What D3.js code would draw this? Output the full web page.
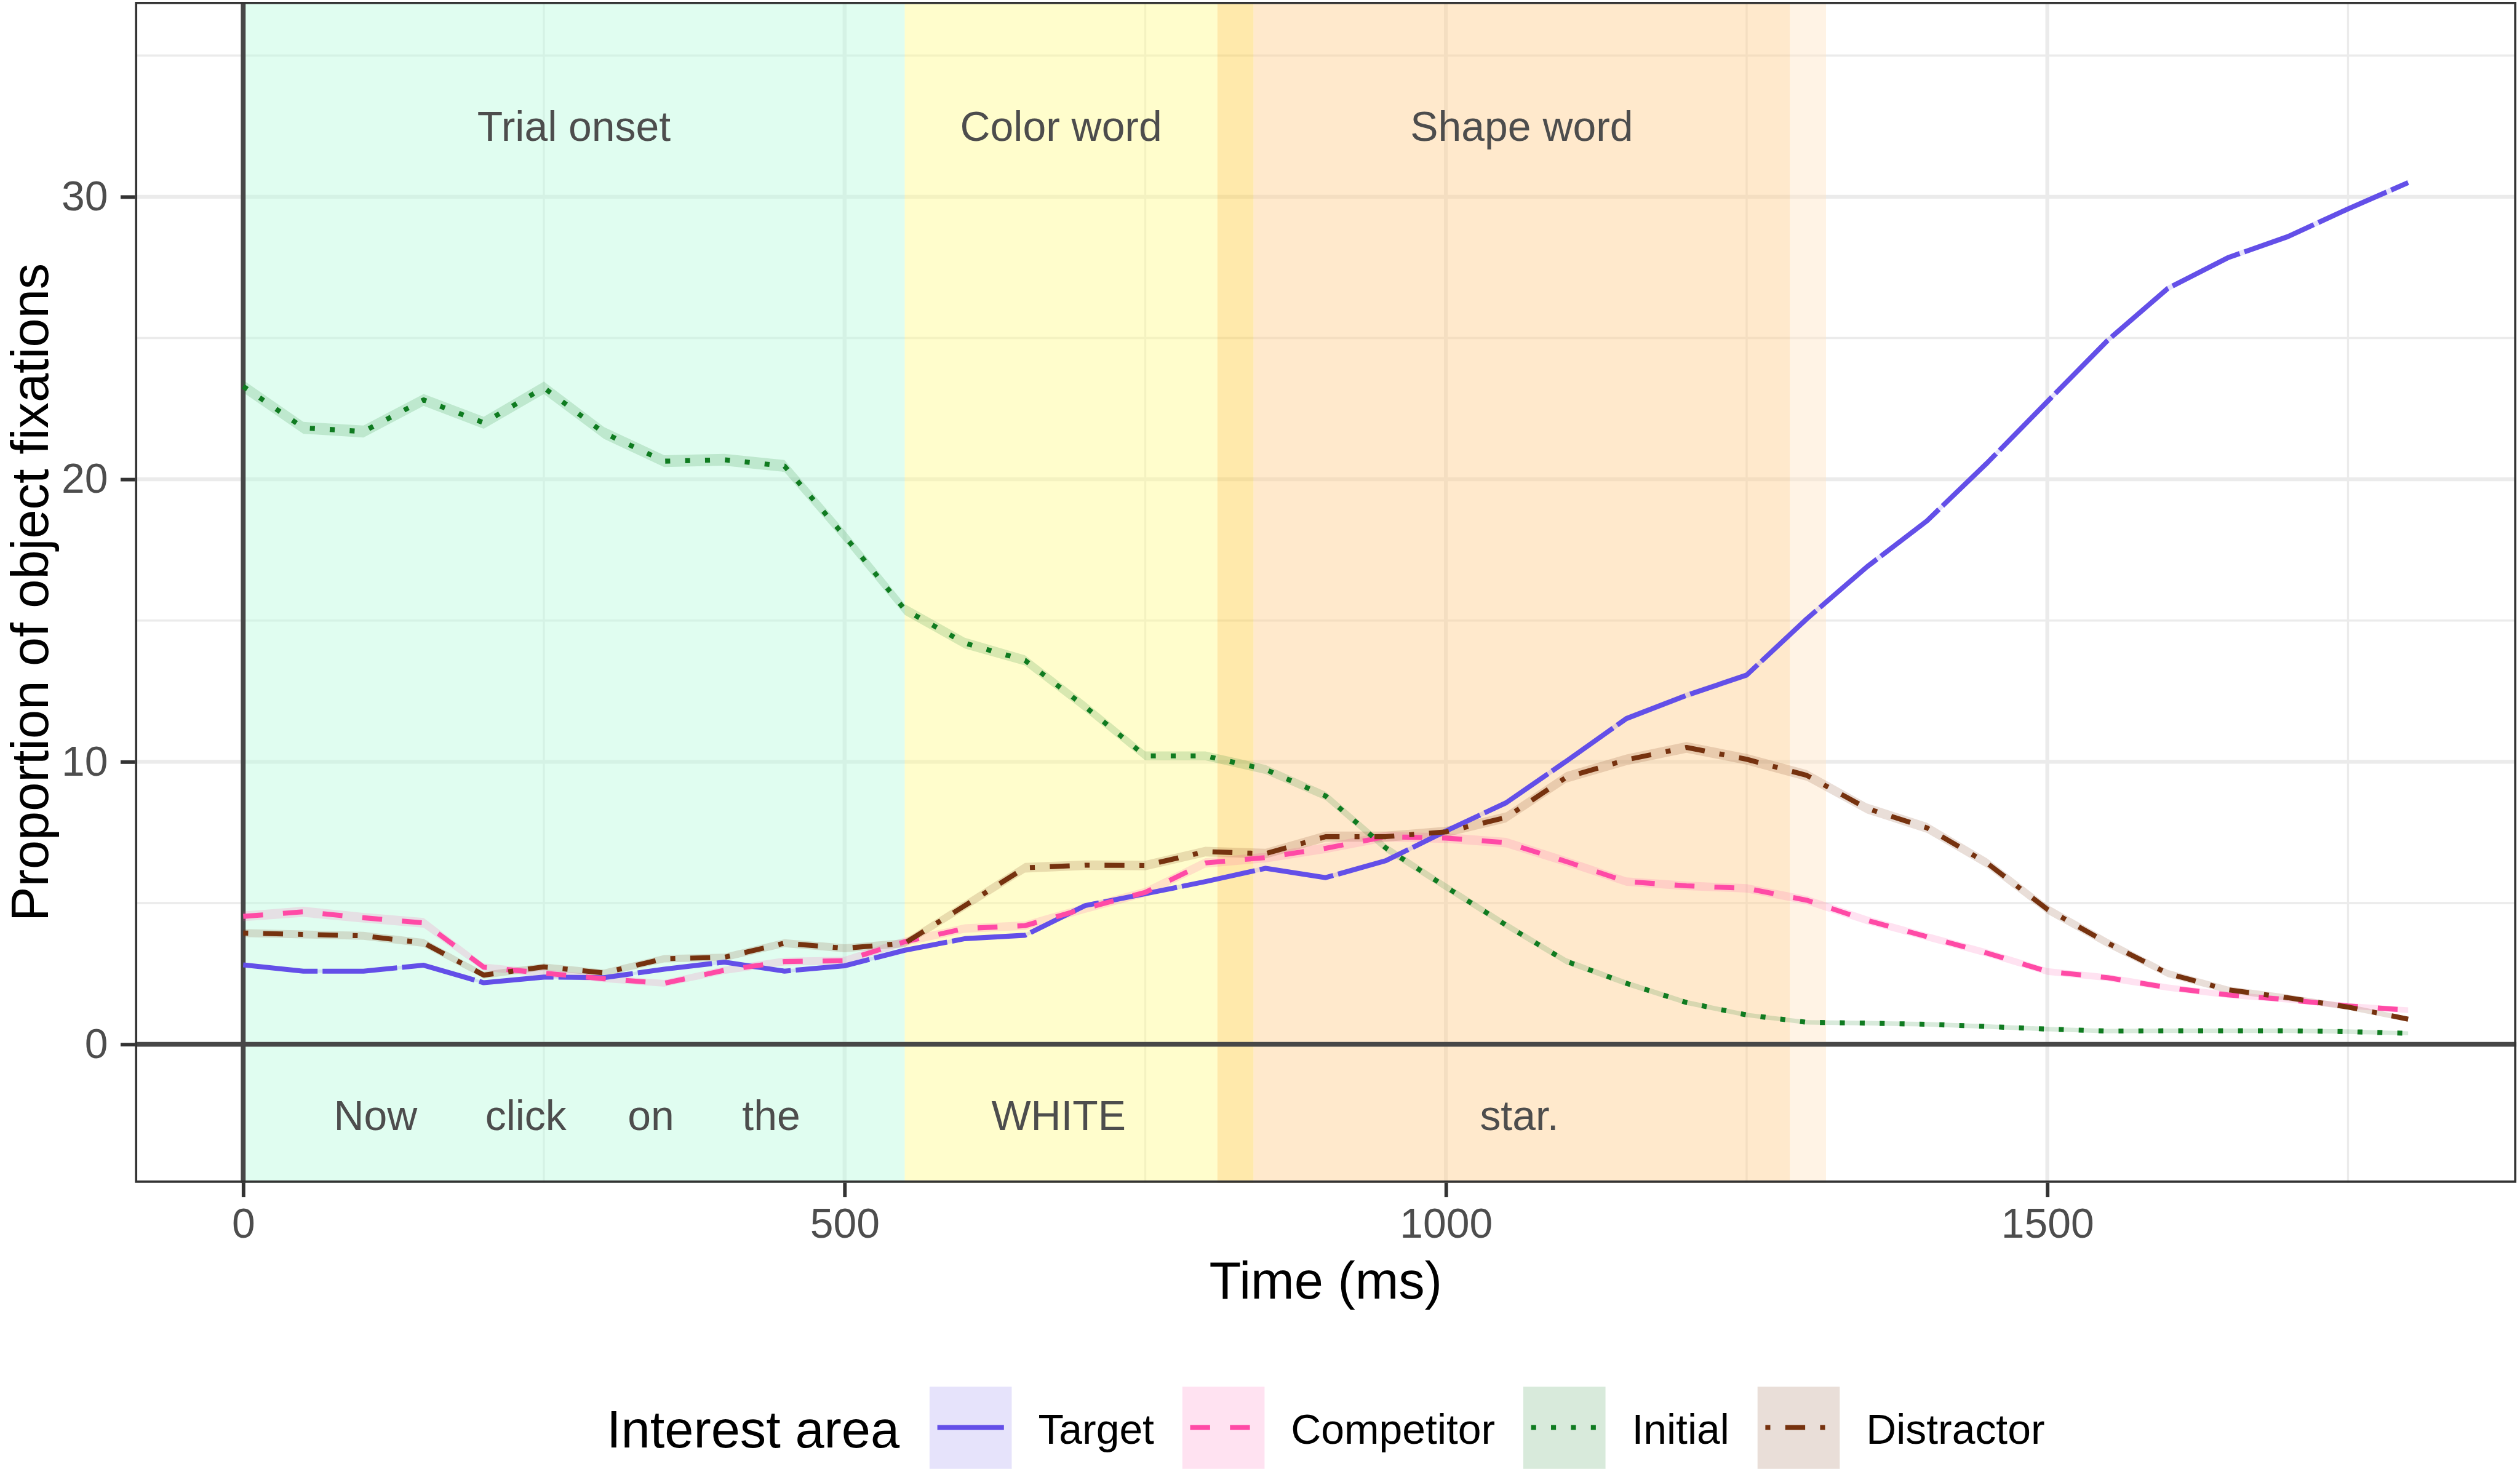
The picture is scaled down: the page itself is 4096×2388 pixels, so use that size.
<!DOCTYPE html>
<html><head><meta charset="utf-8">
<script src="https://cdn.jsdelivr.net/npm/d3@7"></script>
<style>
html,body{margin:0;padding:0;background:#fff;overflow:hidden}
svg{display:block}
text{font-family:"Liberation Sans",Arial,Helvetica,sans-serif}
</style>
</head><body>
<svg id="chart" width="4096" height="2388"></svg>
<script>
// ---------------- data ----------------
const time = [0,50,100,150,200,250,300,350,400,450,500,550,600,650,700,750,800,850,900,950,1000,1050,1100,1150,1200,1250,1300,1350,1400,1450,1500,1550,1600,1650,1700,1750,1800];
const target = [2.81,2.59,2.59,2.80,2.18,2.38,2.36,2.66,2.91,2.59,2.78,3.33,3.74,3.86,4.91,5.33,5.76,6.23,5.90,6.50,7.55,8.55,10.02,11.53,12.35,13.07,15.06,16.90,18.53,20.58,22.75,24.91,26.75,27.84,28.59,29.57,30.50];
const competitor = [4.53,4.69,4.48,4.30,2.73,2.52,2.32,2.16,2.62,2.93,2.96,3.63,4.10,4.20,4.81,5.38,6.42,6.61,6.94,7.35,7.30,7.14,6.47,5.76,5.61,5.52,5.10,4.39,3.81,3.23,2.58,2.36,2.01,1.75,1.58,1.36,1.21];
const initial = [23.29,21.82,21.69,22.81,22.0,23.24,21.64,20.64,20.69,20.47,17.99,15.39,14.20,13.59,11.95,10.21,10.21,9.73,8.79,6.95,5.57,4.22,2.94,2.16,1.48,1.04,0.78,0.75,0.71,0.63,0.54,0.47,0.48,0.48,0.48,0.45,0.39];
const distractor = [3.94,3.89,3.84,3.59,2.45,2.74,2.53,3.03,3.08,3.58,3.40,3.58,4.91,6.25,6.34,6.33,6.82,6.75,7.35,7.35,7.52,8.03,9.45,10.07,10.51,10.09,9.52,8.35,7.66,6.41,4.78,3.59,2.51,1.93,1.65,1.32,0.89];
// ribbon half-widths (standard error), estimated
const seTarget = [0.06,0.06,0.06,0.06,0.05,0.05,0.05,0.06,0.06,0.06,0.06,0.07,0.07,0.07,0.08,0.08,0.08,0.08,0.08,0.08,0.09,0.09,0.10,0.10,0.10,0.10,0.10,0.10,0.10,0.10,0.10,0.10,0.10,0.10,0.10,0.10,0.10];
const seCompetitor = [0.17,0.18,0.17,0.17,0.13,0.13,0.12,0.12,0.13,0.14,0.14,0.15,0.15,0.15,0.16,0.16,0.17,0.17,0.17,0.17,0.17,0.17,0.16,0.15,0.15,0.15,0.15,0.14,0.13,0.13,0.12,0.12,0.11,0.11,0.10,0.10,0.10];
const seInitial = [0.22,0.21,0.21,0.21,0.21,0.22,0.21,0.21,0.21,0.21,0.20,0.19,0.19,0.18,0.17,0.16,0.16,0.16,0.15,0.14,0.13,0.12,0.11,0.10,0.09,0.08,0.08,0.08,0.08,0.08,0.08,0.08,0.08,0.08,0.08,0.08,0.07];
const seDistractor = [0.14,0.14,0.14,0.14,0.12,0.12,0.12,0.13,0.13,0.14,0.14,0.14,0.16,0.17,0.17,0.17,0.17,0.17,0.18,0.18,0.18,0.18,0.19,0.19,0.19,0.19,0.19,0.18,0.18,0.17,0.16,0.15,0.13,0.12,0.11,0.10,0.09];

const seriesNames = ["Target","Competitor","Initial","Distractor"];
const legendTitle = "Interest area";

// shaded phases (ms)
const phaseStart = [0,550,810,840,1286];
const phaseEnd   = [550,810,840,1286,1316];
// phase labels
const phaseLabels = ["Trial onset","Color word","Shape word"];
const phaseLabelX = [275,680,1063];
const phaseLabelY = 32.5;
const wordLabels = ["Now","click","on","the","WHITE","star."];
const wordLabelX = [110,235,339,439,678,1061];
const wordLabelY = -2.5;

const xTicks = [0,500,1000,1500];
const xMinor = [250,750,1250,1750];
const yTicks = [0,10,20,30];
const yMinor = [5,15,25,35];
const xTitle = "Time (ms)";
const yTitle = "Proportion of object fixations";

// ---------------- styles ----------------
const S = 0.975;
const lineColors = ["#634FE8","#FF4AA6","#0F7B20","#76320F"];
const phaseColors = ["#BAFBDE","#FFFB8E","#FFCE45","#FFCE8E","#FFE4C5"];
const LW = 8.3*S, U = 8.3*S;
const dashes = [[15*U,1*U],[4*U,4*U],[1*U,3*U],[1*U,3*U,4*U,3*U]];
const fsBase = 87*S, fsSmall = 69.6*S;

const panel = {l:225*S, r:4195*S, t:3*S, b:1972*S};
const x = d3.scaleLinear().domain([-90,1890]).range([panel.l, panel.r]);
const y = d3.scaleLinear().domain([-4.9,36.9]).range([panel.b, panel.t]);

const svg = d3.select("#chart");
svg.append("rect").attr("width",4096).attr("height",2388).attr("fill","#fff");
svg.append("defs").append("clipPath").attr("id","clip")
  .append("rect").attr("x",panel.l).attr("y",panel.t)
  .attr("width",panel.r-panel.l).attr("height",panel.b-panel.t);

const g = svg.append("g").attr("clip-path","url(#clip)");

// gridlines
g.selectAll(".gxm").data(xMinor).join("line")
  .attr("x1",d=>x(d)).attr("x2",d=>x(d)).attr("y1",panel.t).attr("y2",panel.b)
  .attr("stroke","#EBEBEB").attr("stroke-width",3.5*S);
g.selectAll(".gym").data(yMinor).join("line")
  .attr("y1",d=>y(d)).attr("y2",d=>y(d)).attr("x1",panel.l).attr("x2",panel.r)
  .attr("stroke","#EBEBEB").attr("stroke-width",3.5*S);
g.selectAll(".gxM").data(xTicks).join("line")
  .attr("x1",d=>x(d)).attr("x2",d=>x(d)).attr("y1",panel.t).attr("y2",panel.b)
  .attr("stroke","#EBEBEB").attr("stroke-width",6.5*S);
g.selectAll(".gyM").data(yTicks).join("line")
  .attr("y1",d=>y(d)).attr("y2",d=>y(d)).attr("x1",panel.l).attr("x2",panel.r)
  .attr("stroke","#EBEBEB").attr("stroke-width",6.5*S);

// phase shading
g.selectAll(".phase").data(phaseStart).join("rect")
  .attr("x",(d,i)=>x(d)).attr("width",(d,i)=>x(phaseEnd[i])-x(d))
  .attr("y",panel.t-10).attr("height",panel.b-panel.t+20)
  .attr("fill",(d,i)=>phaseColors[i]).attr("fill-opacity",0.45);

// reference lines at 0
g.append("line").attr("x1",x(0)).attr("x2",x(0)).attr("y1",panel.t-10).attr("y2",panel.b+10)
  .attr("stroke","#474747").attr("stroke-width",8*S);
g.append("line").attr("y1",y(0)).attr("y2",y(0)).attr("x1",panel.l-10).attr("x2",panel.r+10)
  .attr("stroke","#474747").attr("stroke-width",8*S);

// series
const values = [target,competitor,initial,distractor];
const ses = [seTarget,seCompetitor,seInitial,seDistractor];
const series = seriesNames.map((n,k)=>({name:n,k:k,pts:time.map((t,i)=>({t:t,v:values[k][i],se:ses[k][i]}))}));

const area = d3.area().x(d=>x(d.t)).y0(d=>y(d.v-d.se)).y1(d=>y(d.v+d.se));
const line = d3.line().x(d=>x(d.t)).y(d=>y(d.v));

g.selectAll(".rib").data(series).join("path")
  .attr("d",d=>area(d.pts)).attr("fill",d=>lineColors[d.k]).attr("fill-opacity",0.16);
g.selectAll(".ln").data(series).join("path")
  .attr("d",d=>line(d.pts)).attr("fill","none")
  .attr("stroke",d=>lineColors[d.k]).attr("stroke-width",LW)
  .attr("stroke-linejoin","round").attr("stroke-linecap","butt")
  .attr("stroke-dasharray",d=>dashes[d.k].join(","));

// annotation labels
g.selectAll(".pl").data(phaseLabels).join("text")
  .attr("x",(d,i)=>x(phaseLabelX[i])).attr("y",y(phaseLabelY)+0.358*fsSmall)
  .attr("text-anchor","middle").attr("font-size",fsSmall).attr("fill","#4D4D4D").text(d=>d);
g.selectAll(".wl").data(wordLabels).join("text")
  .attr("x",(d,i)=>x(wordLabelX[i])).attr("y",y(wordLabelY)+0.358*fsSmall)
  .attr("text-anchor","middle").attr("font-size",fsSmall).attr("fill","#4D4D4D").text(d=>d);

// panel border (inner half visible, as clipped)
g.append("rect").attr("x",panel.l).attr("y",panel.t).attr("width",panel.r-panel.l).attr("height",panel.b-panel.t)
  .attr("fill","none").attr("stroke","#333333").attr("stroke-width",7.6*S);

// axes
const tickLen = 24*S;
const xAxis = svg.append("g").attr("transform",`translate(0,${panel.b})`)
  .call(d3.axisBottom(x).tickValues(xTicks).tickSizeOuter(0).tickSize(tickLen).tickPadding(42*S-tickLen).tickFormat(d3.format("d")));
const yAxis = svg.append("g").attr("transform",`translate(${panel.l},0)`)
  .call(d3.axisLeft(y).tickValues(yTicks).tickSizeOuter(0).tickSize(tickLen).tickPadding(45*S-tickLen).tickFormat(d3.format("d")));
[xAxis,yAxis].forEach(a=>{
  a.select(".domain").remove();
  a.selectAll(".tick line").attr("stroke","#333333").attr("stroke-width",6*S);
  a.selectAll(".tick text").attr("font-size",fsSmall).attr("fill","#4D4D4D")
    .attr("font-family",'"Liberation Sans",Arial,sans-serif');
});

// axis titles
svg.append("text").attr("x",(panel.l+panel.r)/2).attr("y",2165*S)
  .attr("text-anchor","middle").attr("font-size",fsBase).attr("fill","#000").text(xTitle);
svg.append("text").attr("transform",`translate(${78},${(panel.t+panel.b)/2}) rotate(-90)`)
  .attr("text-anchor","middle").attr("font-size",fsBase).attr("fill","#000").text(yTitle);

// legend
const leg = svg.append("g");
const keyW = 137*S, keyTop = 2312*S, keyH = 137*S;
const keyCy = keyTop + keyH/2 - 0.5*S;
const title = leg.append("text").attr("y",2413*S).attr("font-size",fsBase).attr("fill","#000").text(legendTitle);
const tW = title.node().getComputedTextLength();
const labs = seriesNames.map(n=>leg.append("text").attr("y",2407*S).attr("font-size",fsSmall).attr("fill","#000").text(n));
const lW = labs.map(l=>l.node().getComputedTextLength());
const gapTitle = 50*S, gapKeyLab = 44*S, gapLabKey = 47*S;
let total = tW + gapTitle + d3.sum(lW) + 4*(keyW+gapKeyLab) + 3*gapLabKey;
let cx = (panel.l+panel.r)/2 - total/2;
title.attr("x",cx);
cx += tW + gapTitle;
seriesNames.forEach((n,k)=>{
  leg.append("rect").attr("x",cx).attr("y",keyTop).attr("width",keyW).attr("height",keyH)
    .attr("fill","#fff");
  leg.append("rect").attr("x",cx).attr("y",keyTop).attr("width",keyW).attr("height",keyH)
    .attr("fill",lineColors[k]).attr("fill-opacity",0.16);
  leg.append("line").attr("x1",cx+13*S).attr("x2",cx+124*S).attr("y1",keyCy).attr("y2",keyCy)
    .attr("stroke",lineColors[k]).attr("stroke-width",LW).attr("stroke-linecap","butt")
    .attr("stroke-dasharray",dashes[k].join(","));
  cx += keyW + gapKeyLab;
  labs[k].attr("x",cx);
  cx += lW[k] + gapLabKey;
});
</script>
</body></html>
